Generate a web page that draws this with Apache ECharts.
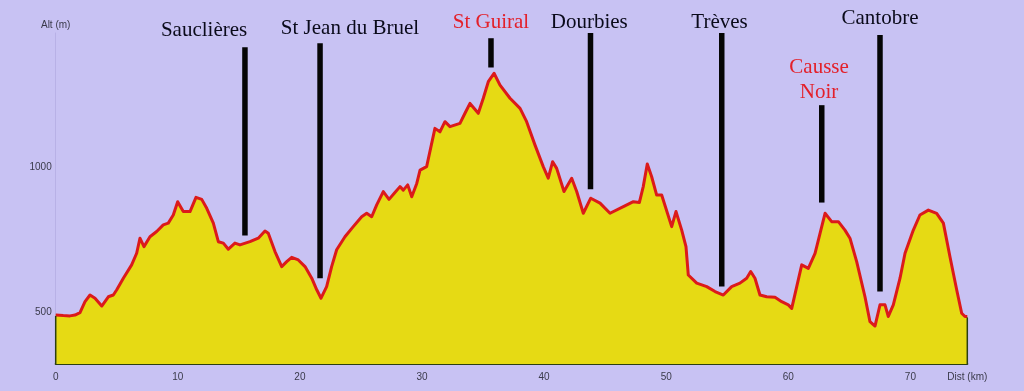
<!DOCTYPE html>
<html>
<head>
<meta charset="utf-8">
<script src="https://cdn.jsdelivr.net/npm/echarts@6/dist/echarts.min.js"></script>
<style>
html,body{margin:0;padding:0;background:#c8c2f3;}
#chart{width:1024px;height:391px;}
</style>
</head>
<body>
<div id="chart"></div>
<script>
// Profile: distance (km) and altitude (m)
const distKm = [0,0.62,1.17,1.58,1.99,2.40,2.81,3.22,3.77,4.31,
4.72,5.00,5.54,6.22,6.63,6.90,7.23,7.72,8.27,8.81,
9.22,9.63,9.99,10.45,11.00,11.49,11.96,12.37,12.91,13.32,
13.73,14.14,14.68,15.09,15.91,16.59,17.14,17.41,17.96,18.51,
18.92,19.33,19.87,20.42,20.97,21.38,21.73,22.19,22.60,23.01,
23.69,24.37,25.06,25.47,25.88,26.29,26.83,27.30,27.73,28.20,
28.47,28.83,29.16,29.57,29.84,30.38,31.06,31.47,31.88,32.29,
33.11,33.52,33.93,34.61,35.02,35.43,35.90,36.39,37.21,38.03,
38.57,39.25,39.93,40.34,40.70,41.03,41.63,42.26,42.67,43.21,
43.82,44.58,45.40,46.49,47.31,47.80,48.12,48.45,48.81,49.22,
49.63,50.45,50.80,51.27,51.62,51.81,52.50,53.32,54.00,54.68,
55.36,56.04,56.59,56.92,57.27,57.68,58.23,58.91,59.46,60.00,
60.28,60.69,61.10,61.64,62.19,62.60,63.01,63.55,64.10,64.64,
65.05,65.60,66.28,66.69,67.10,67.51,67.92,68.19,68.60,69.15,
69.56,70.24,70.78,71.47,72.15,72.70,73.24,73.79,74.20,74.47,
74.66];
const altM = [491,489,488,491,499,537,560,549,522,554,
560,578,618,664,704,756,727,761,779,802,
808,836,882,848,848,897,890,859,808,744,
739,718,739,733,744,756,781,773,710,658,
675,690,681,658,618,578,549,589,658,716,
761,796,830,842,830,871,917,890,911,934,
922,940,899,945,991,1003,1135,1123,1158,1141,
1152,1187,1221,1187,1239,1296,1325,1284,1239,1204,
1158,1078,1003,963,1020,997,917,963,917,842,
894,877,842,865,882,879,934,1012,968,905,
905,796,848,784,727,629,601,589,572,560,
589,601,618,641,618,560,554,552,537,526,
514,589,664,652,704,773,842,813,813,784,
756,675,554,468,453,526,526,486,526,618,
704,784,836,853,842,808,692,578,497,486,
486];

// Place markers (bar from top to bottom altitude) and label anchors
const placeNames  = ['Sauclières','St Jean du Bruel','St Guiral','Dourbies','Trèves','Causse\nNoir','Cantobre'];
const placeKm     = [15.50, 21.65, 35.65, 43.80, 54.55, 62.74, 67.51];
const placeTopM   = [1415, 1429, 1446, 1464, 1464, 1215, 1457];
const placeBotM   = [765, 618, 1345, 925, 589, 879, 572];
const labelKm     = [12.15, 24.10, 35.65, 43.70, 54.37, 62.52, 67.51];
const labelAltM   = [1471, 1481, 1502, 1502, 1502, 1303, 1515];

// Axis ticks
const altTicks = [500, 1000];
const distTicks = [0, 10, 20, 30, 40, 50, 60, 70];

const altMin = 322, altMax = 1464;
const distMin = 0, distMax = 74.66;

// Styles
const redPlaces = ['St Guiral', 'Causse\nNoir'];
const serif = '"Liberation Serif","DejaVu Serif",serif';
const sans = '"Liberation Sans","DejaVu Sans",sans-serif';

const chart = echarts.init(document.getElementById('chart'), null, {renderer: 'canvas'});

const profile = distKm.map((d, i) => [d, altM[i]]);
const markers = placeNames.map((n, i) => [placeKm[i], placeTopM[i], placeBotM[i], i]);
const labels = placeNames.map((n, i) => [labelKm[i], labelAltM[i], i]);
const edges = [[distKm[0], altM[0]], [distKm[distKm.length - 1], altM[altM.length - 1]]];

chart.setOption({
  backgroundColor: '#c8c2f3',
  animation: false,
  grid: {left: 55.7, right: 56.7, top: 33, bottom: 27},
  xAxis: {
    type: 'value', min: distMin, max: distMax,
    axisLine: {show: true, onZero: false, lineStyle: {color: '#2b3f10', width: 2}},
    axisTick: {show: false},
    splitLine: {show: false},
    axisLabel: {customValues: distTicks, color: '#3a3a4a', fontFamily: sans, fontSize: 10, margin: 8,
      formatter: v => String(v)},
    name: 'Dist (km)', nameLocation: 'end', nameGap: 0,
    nameTextStyle: {color: '#3a3a4a', fontFamily: sans, fontSize: 10, align: 'center', verticalAlign: 'top', padding: [8, 0, 0, 0]}
  },
  yAxis: {
    type: 'value', min: altMin, max: altMax,
    axisLine: {show: true, lineStyle: {color: '#b8b1e6', width: 1}},
    axisTick: {show: false},
    splitLine: {show: false},
    axisLabel: {customValues: altTicks, color: '#3a3a4a', fontFamily: sans, fontSize: 10, margin: 4,
      formatter: v => String(v)},
    name: 'Alt (m)', nameLocation: 'end', nameGap: 3,
    nameTextStyle: {color: '#3a3a4a', fontFamily: sans, fontSize: 10, align: 'center'}
  },
  series: [
    {
      type: 'line', data: profile, showSymbol: false, smooth: false,
      lineStyle: {color: '#dc1a1a', width: 3, join: 'round'},
      areaStyle: {color: '#e6da14', opacity: 1, origin: 'start'},
      z: 2
    },
    {
      type: 'custom', data: edges, clip: false, z: 3,
      renderItem: function (params, api) {
        const p = api.coord([api.value(0), api.value(1)]);
        const b = api.coord([api.value(0), altMin]);
        return {type: 'line', shape: {x1: p[0], y1: p[1] + 1, x2: b[0], y2: b[1]},
          style: {stroke: '#2b3f10', lineWidth: 1.5}};
      }
    },
    {
      type: 'custom', data: markers, clip: false, z: 5,
      encode: {x: 0, y: 1},
      renderItem: function (params, api) {
        const km = api.value(0);
        const t = api.coord([km, api.value(1)]);
        const b = api.coord([km, api.value(2)]);
        return {type: 'rect', shape: {x: t[0] - 2.75, y: t[1], width: 5.5, height: b[1] - t[1]},
          style: {fill: '#050505'}};
      }
    },
    {
      type: 'custom', data: labels, clip: false, z: 6,
      encode: {x: 0, y: 1},
      renderItem: function (params, api) {
        const p = api.coord([api.value(0), api.value(1)]);
        const name = placeNames[api.value(2)];
        return {type: 'text', x: p[0], y: p[1],
          style: {text: name, align: 'center', verticalAlign: 'middle',
            font: '21px ' + serif, lineHeight: 25,
            fill: redPlaces.indexOf(name) >= 0 ? '#e3202a' : '#0a0a1a'}};
      }
    }
  ]
});
</script>
</body>
</html>
